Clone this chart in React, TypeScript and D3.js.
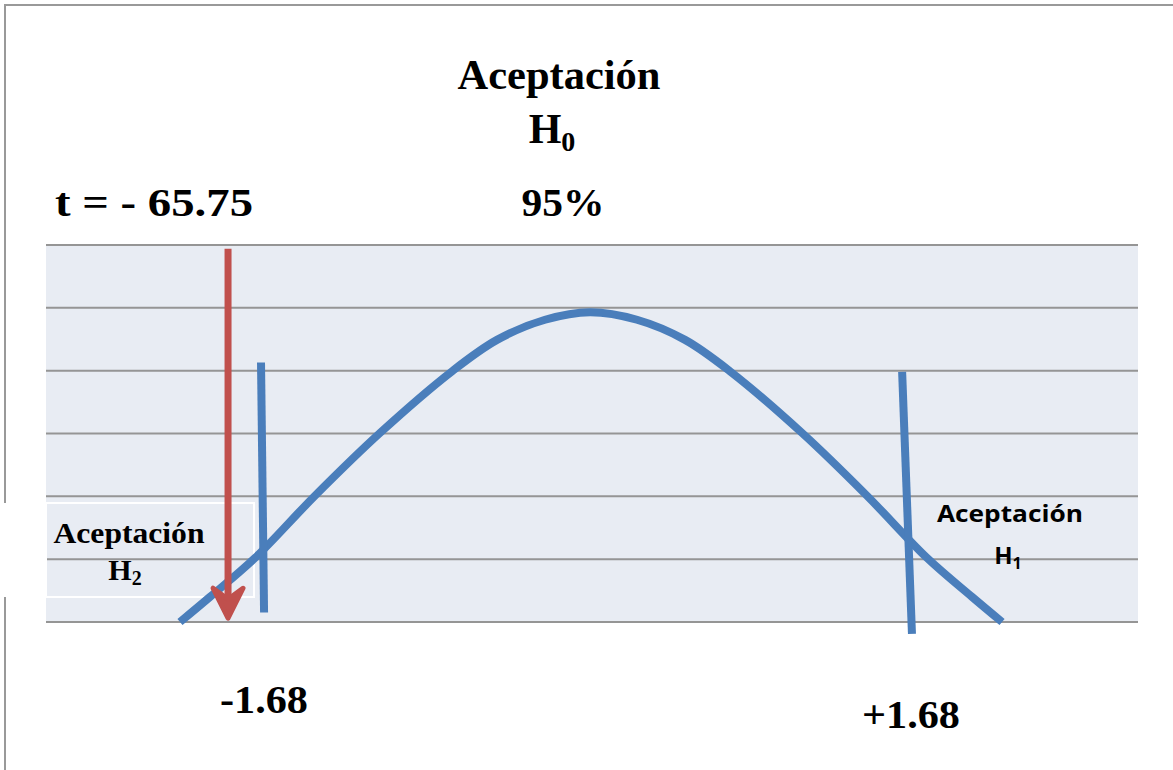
import React from "react";
import * as d3 from "d3";

const W = 1173;
const H = 770;

// grid bands (y units)
const gridLevels = [0, 1, 2, 3, 4, 5, 6];

// bell curve (x units 0..100, y units 0..6)
const curveX = [12.27, 15.02, 19.14, 24.63, 30.59, 37.18, 41.3, 45.7, 49.82, 54.12, 58.52, 62.64, 69.23, 75.18, 80.68, 84.8, 87.55];
const curveY = [0, 0.4, 1.02, 2.01, 3.01, 3.99, 4.49, 4.81, 4.93, 4.81, 4.49, 3.99, 3.01, 2.01, 1.02, 0.4, 0];

// critical value markers (x units top/bottom, y units top/bottom)
const criticalX1 = [19.69, 19.97];
const criticalY1 = [4.13, 0.15];
const criticalX2 = [78.4, 79.3];
const criticalY2 = [3.98, -0.19];

// test statistic arrow
const arrowX = 16.67;
const arrowY = [5.94, 0.06];

const titleLines = ["Aceptación", "H", "0"];
const tLabel = "t =  - 65.75";
const confLabel = "95%";
const critLabels = ["-1.68", "+1.68"];

export default function App() {
  const x = d3.scaleLinear().domain([0, 100]).range([46, 1138]);
  const y = d3.scaleLinear().domain([0, 6]).range([622, 245]);

  const pts: [number, number][] = curveX.map((v, i) => [v, curveY[i]]);
  const line = d3
    .line<[number, number]>()
    .x((d) => x(d[0]))
    .y((d) => y(d[1]))
    .curve(d3.curveCatmullRom.alpha(0.5));

  const blue = "#4A7EBB";
  const red = "#C0504D";
  const serif = "'Liberation Serif', 'DejaVu Serif Condensed', 'DejaVu Serif', serif";
  const sans = "Open Sans";
  const serifStyle = { fontStretch: "condensed" } as React.CSSProperties;

  const ax = x(arrowX);
  const aTop = y(arrowY[0]);
  const aTip = y(arrowY[1]);

  return (
    <svg
      width={W}
      height={H}
      style={{ position: "fixed", top: 0, left: 0, background: "#fff" }}
    >
      {/* frame */}
      <line x1={5} y1={5} x2={W} y2={5} stroke="#999" strokeWidth={2} />
      <line x1={5} y1={4} x2={5} y2={H} stroke="#999" strokeWidth={2} />

      {/* plot area */}
      <rect x={x(0)} y={y(6)} width={x(100) - x(0)} height={y(0) - y(6)} fill="#E8ECF3" />
      {gridLevels.map((g) => (
        <line key={g} x1={x(0)} x2={x(100)} y1={y(g)} y2={y(g)} stroke="#959595" strokeWidth={2} />
      ))}

      {/* H2 label box */}
      <rect x={0} y={503} width={x(0)} height={94} fill="#fff" />
      <rect x={x(0)} y={503} width={254 - x(0)} height={94} fill="none" stroke="#fff" strokeWidth={2} />

      {/* curve */}
      <path d={line(pts) || ""} fill="none" stroke={blue} strokeWidth={8} />

      {/* critical lines */}
      <line x1={x(criticalX1[0])} y1={y(criticalY1[0])} x2={x(criticalX1[1])} y2={y(criticalY1[1])} stroke={blue} strokeWidth={8} />
      <line x1={x(criticalX2[0])} y1={y(criticalY2[0])} x2={x(criticalX2[1])} y2={y(criticalY2[1])} stroke={blue} strokeWidth={8} />

      {/* arrow */}
      <line x1={ax} y1={aTop} x2={ax} y2={aTip - 12} stroke={red} strokeWidth={7} />
      <path
        d={`M${ax - 15},${aTip - 30} L${ax},${aTip} L${ax + 15},${aTip - 30} L${ax},${aTip - 19} Z`}
        fill={red}
        stroke={red}
        strokeWidth={5}
        strokeLinejoin="round"
      />

      <g fontFamily={serif} fontWeight="bold" style={serifStyle}>
        {/* title */}
        <text x={559} y={89} textAnchor="middle" fontSize={42} textLength={203} lengthAdjust="spacingAndGlyphs">
          {titleLines[0]}
        </text>
        <text x={552} y={143} textAnchor="middle" fontSize={42}>
          {titleLines[1]}
          <tspan fontSize={28} dy={8}>{titleLines[2]}</tspan>
        </text>

        <text x={55} y={216} fontSize={41} textLength={198} lengthAdjust="spacingAndGlyphs">
          {tLabel}
        </text>
        <text x={563} y={216} textAnchor="middle" fontSize={41} textLength={83} lengthAdjust="spacingAndGlyphs">
          {confLabel}
        </text>

        <text x={264} y={713} textAnchor="middle" fontSize={41} textLength={88} lengthAdjust="spacingAndGlyphs">
          {critLabels[0]}
        </text>
        <text x={911} y={728} textAnchor="middle" fontSize={41} textLength={98} lengthAdjust="spacingAndGlyphs">
          {critLabels[1]}
        </text>

        {/* H2 label */}
        <text x={129} y={543} textAnchor="middle" fontSize={29} textLength={151} lengthAdjust="spacingAndGlyphs">
          Aceptación
        </text>
        <text x={125} y={580} textAnchor="middle" fontSize={30}>
          H<tspan fontSize={20} dy={5}>2</tspan>
        </text>
      </g>

      {/* H1 label */}
      <text x={1010} y={522} textAnchor="middle" fontFamily={sans} fontWeight="bold" fontSize={24} textLength={146} lengthAdjust="spacingAndGlyphs">
        Aceptación
      </text>
      <text x={1008} y={564} textAnchor="middle" fontFamily={sans} fontWeight="bold" fontSize={24}>
        H<tspan fontSize={16} dy={5}>1</tspan>
      </text>
    </svg>
  );
}
